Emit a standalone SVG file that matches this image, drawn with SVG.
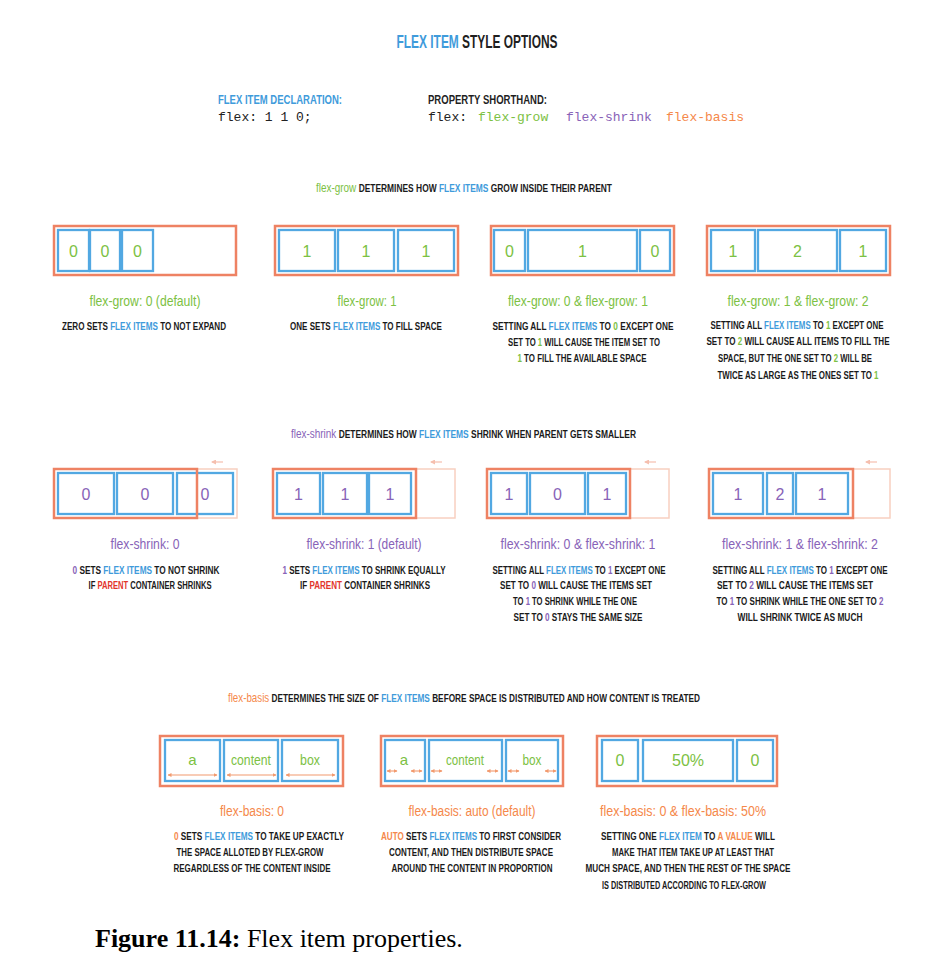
<svg xmlns="http://www.w3.org/2000/svg" width="927" height="959" viewBox="0 0 927 959">
<defs>
<style>
text{font-family:"Liberation Sans",Arial,sans-serif}
.t{font-size:19px;font-weight:bold;fill:#1f1f1f}
.h{font-size:13px;font-weight:bold;fill:#1f1f1f}
.c{font-size:11px;font-weight:bold;fill:#1a1a1a}
.s{font-size:15px;font-weight:normal}
.hs{font-size:13px;font-weight:normal}
.m{font-family:"Liberation Mono","DejaVu Sans Mono",monospace;font-size:13px;fill:#222}
.lab{font-size:16px;font-weight:normal}
.g{fill:#7cc143}.p{fill:#8863b8}.o{fill:#f5884a}.b{fill:#3f9bdb}.r{fill:#e2352b}
.outer{fill:none;stroke:#ee8263;stroke-width:2.5}
.faint{fill:none;stroke:#f8cfc0;stroke-width:1.5}
.item{fill:none;stroke:#52a8e2;stroke-width:2.3}
.farr{stroke:#f5bfae;stroke-width:1.2;fill:none}
.darr{stroke:#f29a6e;stroke-width:1.1;fill:none}
.cap{font-family:"Liberation Serif","Times New Roman",serif;font-size:26px;fill:#000}
</style>
<marker id="la" markerWidth="5" markerHeight="5" refX="4" refY="2.5" orient="auto" markerUnits="userSpaceOnUse">
<path d="M0,0 L5,2.5 L0,5 z" fill="#f5bfae"/>
</marker>
<marker id="da" markerWidth="4" markerHeight="4" refX="3.5" refY="2" orient="auto-start-reverse" markerUnits="userSpaceOnUse">
<path d="M0,0 L4,2 L0,4 z" fill="#f29a6e"/>
</marker>
</defs>
<rect width="927" height="959" fill="#fff"/>

<g id="header">
<text class="t" text-anchor="middle" transform="translate(477,48) scale(.63,1)" textLength="255.6" lengthAdjust="spacingAndGlyphs"><tspan class="b">FLEX ITEM</tspan> STYLE OPTIONS</text>
<text class="h b" transform="translate(218,104) scale(.73,1)" textLength="169.9" lengthAdjust="spacingAndGlyphs">FLEX ITEM DECLARATION:</text>
<text class="m" x="218" y="121">flex: 1 1 0;</text>
<text class="h" transform="translate(428,104) scale(.73,1)" textLength="163" lengthAdjust="spacingAndGlyphs">PROPERTY SHORTHAND:</text>
<text class="m" x="428" y="121">flex:</text>
<text class="m g" x="478" y="121">flex-grow</text>
<text class="m p" x="566" y="121">flex-shrink</text>
<text class="m o" x="666" y="121">flex-basis</text>
</g>

<g id="grow-heading">
<text class="c" text-anchor="middle" transform="translate(464,192) scale(.72,1)" textLength="411.1" lengthAdjust="spacingAndGlyphs"><tspan class="hs g">flex-grow</tspan> DETERMINES HOW <tspan class="b">FLEX ITEMS</tspan> GROW INSIDE THEIR PARENT</text>
</g>

<g id="grow-1">
<rect class="outer" x="54" y="226" width="182" height="49"/>
<rect class="item" x="58" y="230" width="31" height="41"/>
<rect class="item" x="90" y="230" width="30" height="41"/>
<rect class="item" x="122" y="230" width="31" height="41"/>
<text class="lab g" x="73.5" y="257" text-anchor="middle">0</text>
<text class="lab g" x="105" y="257" text-anchor="middle">0</text>
<text class="lab g" x="137.5" y="257" text-anchor="middle">0</text>
<text class="s g" text-anchor="middle" transform="translate(145,306) scale(.78,1)" textLength="142.3" lengthAdjust="spacingAndGlyphs">flex-grow: 0 (default)</text>
<text class="c" text-anchor="middle" transform="translate(144,330) scale(.72,1)" textLength="227.8" lengthAdjust="spacingAndGlyphs">ZERO SETS <tspan class="b">FLEX ITEMS</tspan> TO NOT EXPAND</text>
</g>

<g id="grow-2">
<rect class="outer" x="275" y="226" width="183" height="49"/>
<rect class="item" x="279" y="230" width="56" height="41"/>
<rect class="item" x="338" y="230" width="56" height="41"/>
<rect class="item" x="398" y="230" width="56" height="41"/>
<text class="lab g" x="307" y="257" text-anchor="middle">1</text>
<text class="lab g" x="366" y="257" text-anchor="middle">1</text>
<text class="lab g" x="426" y="257" text-anchor="middle">1</text>
<text class="s g" text-anchor="middle" transform="translate(367,306) scale(.78,1)" textLength="75.6" lengthAdjust="spacingAndGlyphs">flex-grow: 1</text>
<text class="c" text-anchor="middle" transform="translate(366,330) scale(.72,1)" textLength="211.1" lengthAdjust="spacingAndGlyphs">ONE SETS <tspan class="b">FLEX ITEMS</tspan> TO FILL SPACE</text>
</g>

<g id="grow-3">
<rect class="outer" x="491" y="226" width="183" height="49"/>
<rect class="item" x="494" y="230" width="31" height="41"/>
<rect class="item" x="528" y="230" width="109" height="41"/>
<rect class="item" x="640" y="230" width="30" height="41"/>
<text class="lab g" x="509.5" y="257" text-anchor="middle">0</text>
<text class="lab g" x="582.5" y="257" text-anchor="middle">1</text>
<text class="lab g" x="655" y="257" text-anchor="middle">0</text>
<text class="s g" text-anchor="middle" transform="translate(578,306) scale(.78,1)" textLength="179.5" lengthAdjust="spacingAndGlyphs">flex-grow: 0 &amp; flex-grow: 1</text>
<text class="c" text-anchor="middle" transform="translate(583,330) scale(.72,1)" textLength="251.4" lengthAdjust="spacingAndGlyphs">SETTING ALL <tspan class="b">FLEX ITEMS</tspan> TO <tspan class="g">0</tspan> EXCEPT ONE</text>
<text class="c" text-anchor="middle" transform="translate(584,346) scale(.72,1)" textLength="211.1" lengthAdjust="spacingAndGlyphs">SET TO <tspan class="g">1</tspan> WILL CAUSE THE ITEM SET TO</text>
<text class="c" text-anchor="middle" transform="translate(582,362) scale(.72,1)" textLength="179.2" lengthAdjust="spacingAndGlyphs"><tspan class="g">1</tspan> TO FILL THE AVAILABLE SPACE</text>
</g>

<g id="grow-4">
<rect class="outer" x="707" y="226" width="183" height="49"/>
<rect class="item" x="711" y="230" width="44" height="41"/>
<rect class="item" x="758" y="230" width="79" height="41"/>
<rect class="item" x="840" y="230" width="46" height="41"/>
<text class="lab g" x="733" y="257" text-anchor="middle">1</text>
<text class="lab g" x="797.5" y="257" text-anchor="middle">2</text>
<text class="lab g" x="863" y="257" text-anchor="middle">1</text>
<text class="s g" text-anchor="middle" transform="translate(798,306) scale(.78,1)" textLength="180.8" lengthAdjust="spacingAndGlyphs">flex-grow: 1 &amp; flex-grow: 2</text>
<text class="c" text-anchor="middle" transform="translate(797,329) scale(.72,1)" textLength="240.3" lengthAdjust="spacingAndGlyphs">SETTING ALL <tspan class="b">FLEX ITEMS</tspan> TO <tspan class="g">1</tspan> EXCEPT ONE</text>
<text class="c" text-anchor="middle" transform="translate(798,345) scale(.72,1)" textLength="254.2" lengthAdjust="spacingAndGlyphs">SET TO <tspan class="g">2</tspan> WILL CAUSE ALL ITEMS TO FILL THE</text>
<text class="c" text-anchor="middle" transform="translate(795,362) scale(.72,1)" textLength="213.9" lengthAdjust="spacingAndGlyphs">SPACE, BUT THE ONE SET TO <tspan class="g">2</tspan> WILL BE</text>
<text class="c" text-anchor="middle" transform="translate(798,379) scale(.72,1)" textLength="223.6" lengthAdjust="spacingAndGlyphs">TWICE AS LARGE AS THE ONES SET TO <tspan class="g">1</tspan></text>
</g>

<g id="shrink-heading">
<text class="c" text-anchor="middle" transform="translate(463.5,438) scale(.72,1)" textLength="479.2" lengthAdjust="spacingAndGlyphs"><tspan class="hs p">flex-shrink</tspan> DETERMINES HOW <tspan class="b">FLEX ITEMS</tspan> SHRINK WHEN PARENT GETS SMALLER</text>
</g>

<g id="shrink-1">
<rect class="faint" x="54" y="469" width="183" height="49"/>
<rect class="item" x="58" y="473" width="56" height="41"/>
<rect class="item" x="117" y="473" width="56" height="41"/>
<rect class="item" x="177" y="473" width="56" height="41"/>
<rect class="outer" x="54" y="469" width="143" height="49"/>
<text class="lab p" x="86" y="500" text-anchor="middle">0</text>
<text class="lab p" x="145" y="500" text-anchor="middle">0</text>
<text class="lab p" x="205" y="500" text-anchor="middle">0</text>
<text class="s p" text-anchor="middle" transform="translate(145,549) scale(.78,1)" textLength="88.5" lengthAdjust="spacingAndGlyphs">flex-shrink: 0</text>
<text class="c" text-anchor="middle" transform="translate(146,574) scale(.72,1)" textLength="204.2" lengthAdjust="spacingAndGlyphs"><tspan class="p">0</tspan> SETS <tspan class="b">FLEX ITEMS</tspan> TO NOT SHRINK</text>
<text class="c" text-anchor="middle" transform="translate(150,589) scale(.72,1)" textLength="170.8" lengthAdjust="spacingAndGlyphs">IF <tspan class="r">PARENT</tspan> CONTAINER SHRINKS</text>
</g>

<g id="shrink-2">
<rect class="faint" x="273" y="469" width="182" height="49"/>
<rect class="item" x="277" y="473" width="43" height="41"/>
<rect class="item" x="323" y="473" width="44" height="41"/>
<rect class="item" x="369" y="473" width="42" height="41"/>
<rect class="outer" x="273" y="469" width="143" height="49"/>
<text class="lab p" x="298.5" y="500" text-anchor="middle">1</text>
<text class="lab p" x="345" y="500" text-anchor="middle">1</text>
<text class="lab p" x="390" y="500" text-anchor="middle">1</text>
<text class="s p" text-anchor="middle" transform="translate(364,549) scale(.78,1)" textLength="147.4" lengthAdjust="spacingAndGlyphs">flex-shrink: 1 (default)</text>
<text class="c" text-anchor="middle" transform="translate(364,574) scale(.72,1)" textLength="226.4" lengthAdjust="spacingAndGlyphs"><tspan class="p">1</tspan> SETS <tspan class="b">FLEX ITEMS</tspan> TO SHRINK EQUALLY</text>
<text class="c" text-anchor="middle" transform="translate(365,589) scale(.72,1)" textLength="180.6" lengthAdjust="spacingAndGlyphs">IF <tspan class="r">PARENT</tspan> CONTAINER SHRINKS</text>
</g>

<g id="shrink-3">
<rect class="faint" x="487" y="469" width="182" height="49"/>
<rect class="item" x="491" y="473" width="36" height="41"/>
<rect class="item" x="530" y="473" width="55" height="41"/>
<rect class="item" x="588" y="473" width="38" height="41"/>
<rect class="outer" x="487" y="469" width="143" height="49"/>
<text class="lab p" x="509" y="500" text-anchor="middle">1</text>
<text class="lab p" x="557.5" y="500" text-anchor="middle">0</text>
<text class="lab p" x="607" y="500" text-anchor="middle">1</text>
<text class="s p" text-anchor="middle" transform="translate(578,549) scale(.78,1)" textLength="198.7" lengthAdjust="spacingAndGlyphs">flex-shrink: 0 &amp; flex-shrink: 1</text>
<text class="c" text-anchor="middle" transform="translate(579,574) scale(.72,1)" textLength="240.3" lengthAdjust="spacingAndGlyphs">SETTING ALL <tspan class="b">FLEX ITEMS</tspan> TO <tspan class="p">1</tspan> EXCEPT ONE</text>
<text class="c" text-anchor="middle" transform="translate(576,589) scale(.72,1)" textLength="211.1" lengthAdjust="spacingAndGlyphs">SET TO <tspan class="p">0</tspan> WILL CAUSE THE ITEMS SET</text>
<text class="c" text-anchor="middle" transform="translate(575,605) scale(.72,1)" textLength="172.2" lengthAdjust="spacingAndGlyphs">TO <tspan class="p">1</tspan> TO SHRINK WHILE THE ONE</text>
<text class="c" text-anchor="middle" transform="translate(578,621) scale(.72,1)" textLength="179.2" lengthAdjust="spacingAndGlyphs">SET TO <tspan class="p">0</tspan> STAYS THE SAME SIZE</text>
</g>

<g id="shrink-4">
<rect class="faint" x="709" y="469" width="181" height="49"/>
<rect class="item" x="713" y="473" width="50" height="41"/>
<rect class="item" x="767" y="473" width="26" height="41"/>
<rect class="item" x="796" y="473" width="52" height="41"/>
<rect class="outer" x="709" y="469" width="144" height="49"/>
<text class="lab p" x="738" y="500" text-anchor="middle">1</text>
<text class="lab p" x="780" y="500" text-anchor="middle">2</text>
<text class="lab p" x="822" y="500" text-anchor="middle">1</text>
<text class="s p" text-anchor="middle" transform="translate(800,549) scale(.78,1)" textLength="200" lengthAdjust="spacingAndGlyphs">flex-shrink: 1 &amp; flex-shrink: 2</text>
<text class="c" text-anchor="middle" transform="translate(800,574) scale(.72,1)" textLength="243.1" lengthAdjust="spacingAndGlyphs">SETTING ALL <tspan class="b">FLEX ITEMS</tspan> TO <tspan class="p">1</tspan> EXCEPT ONE</text>
<text class="c" text-anchor="middle" transform="translate(795,589) scale(.72,1)" textLength="216.7" lengthAdjust="spacingAndGlyphs">SET TO <tspan class="p">2</tspan> WILL CAUSE THE ITEMS SET</text>
<text class="c" text-anchor="middle" transform="translate(800,605) scale(.72,1)" textLength="231.9" lengthAdjust="spacingAndGlyphs">TO <tspan class="p">1</tspan> TO SHRINK WHILE THE ONE SET TO <tspan class="p">2</tspan></text>
<text class="c" text-anchor="middle" transform="translate(800,621) scale(.72,1)" textLength="173.6" lengthAdjust="spacingAndGlyphs">WILL SHRINK TWICE AS MUCH</text>
</g>

<g id="basis-heading">
<text class="c" text-anchor="middle" transform="translate(464,702) scale(.72,1)" textLength="655.6" lengthAdjust="spacingAndGlyphs"><tspan class="hs o">flex-basis</tspan> DETERMINES THE SIZE OF <tspan class="b">FLEX ITEMS</tspan> BEFORE SPACE IS DISTRIBUTED AND HOW CONTENT IS TREATED</text>
</g>

<g id="basis-1">
<rect class="outer" x="160" y="736" width="183" height="50"/>
<rect class="item" x="165" y="740" width="55" height="41"/>
<rect class="item" x="224" y="740" width="54" height="41"/>
<rect class="item" x="282" y="740" width="56" height="41"/>
<text class="s g" x="192.5" y="765" text-anchor="middle">a</text>
<text class="s g" text-anchor="middle" transform="translate(251,765) scale(.78,1)" textLength="51.3" lengthAdjust="spacingAndGlyphs">content</text>
<text class="s g" text-anchor="middle" transform="translate(310,765) scale(.78,1)" textLength="25.6" lengthAdjust="spacingAndGlyphs">box</text>
<text class="s o" text-anchor="middle" transform="translate(252,816) scale(.78,1)" textLength="82.1" lengthAdjust="spacingAndGlyphs">flex-basis: 0</text>
<text class="c" text-anchor="middle" transform="translate(259,840) scale(.72,1)" textLength="236.1" lengthAdjust="spacingAndGlyphs"><tspan class="o">0</tspan> SETS <tspan class="b">FLEX ITEMS</tspan> TO TAKE UP EXACTLY</text>
<text class="c" text-anchor="middle" transform="translate(250,856) scale(.72,1)" textLength="204.2" lengthAdjust="spacingAndGlyphs">THE SPACE ALLOTED BY FLEX-GROW</text>
<text class="c" text-anchor="middle" transform="translate(252,872) scale(.72,1)" textLength="218.1" lengthAdjust="spacingAndGlyphs">REGARDLESS OF THE CONTENT INSIDE</text>
</g>

<g id="basis-2">
<rect class="outer" x="381" y="736" width="182" height="50"/>
<rect class="item" x="385" y="740" width="40" height="41"/>
<rect class="item" x="429" y="740" width="73" height="41"/>
<rect class="item" x="506" y="740" width="52" height="41"/>
<text class="s g" x="404" y="765" text-anchor="middle">a</text>
<text class="s g" text-anchor="middle" transform="translate(465,765) scale(.78,1)" textLength="48.7" lengthAdjust="spacingAndGlyphs">content</text>
<text class="s g" text-anchor="middle" transform="translate(532,765) scale(.78,1)" textLength="24.4" lengthAdjust="spacingAndGlyphs">box</text>
<text class="s o" text-anchor="middle" transform="translate(472,816) scale(.78,1)" textLength="162.8" lengthAdjust="spacingAndGlyphs">flex-basis: auto (default)</text>
<text class="c" text-anchor="middle" transform="translate(471,840) scale(.72,1)" textLength="250" lengthAdjust="spacingAndGlyphs"><tspan class="o">AUTO</tspan> SETS <tspan class="b">FLEX ITEMS</tspan> TO FIRST CONSIDER</text>
<text class="c" text-anchor="middle" transform="translate(471,856) scale(.72,1)" textLength="227.8" lengthAdjust="spacingAndGlyphs">CONTENT, AND THEN DISTRIBUTE SPACE</text>
<text class="c" text-anchor="middle" transform="translate(472,872) scale(.72,1)" textLength="223.6" lengthAdjust="spacingAndGlyphs">AROUND THE CONTENT IN PROPORTION</text>
</g>

<g id="basis-3">
<rect class="outer" x="597" y="736" width="180" height="50"/>
<rect class="item" x="602" y="740" width="36" height="41"/>
<rect class="item" x="643" y="740" width="90" height="41"/>
<rect class="item" x="737" y="740" width="36" height="41"/>
<text class="lab g" x="620" y="766" text-anchor="middle">0</text>
<text class="lab g" x="688" y="766" text-anchor="middle">50%</text>
<text class="lab g" x="755" y="766" text-anchor="middle">0</text>
<text class="s o" text-anchor="middle" transform="translate(683,816) scale(.78,1)" textLength="212.8" lengthAdjust="spacingAndGlyphs">flex-basis: 0 &amp; flex-basis: 50%</text>
<text class="c" text-anchor="middle" transform="translate(688,840) scale(.72,1)" textLength="241.7" lengthAdjust="spacingAndGlyphs">SETTING ONE <tspan class="b">FLEX ITEM</tspan> TO <tspan class="o">A VALUE</tspan> WILL</text>
<text class="c" text-anchor="middle" transform="translate(693,856) scale(.72,1)" textLength="225" lengthAdjust="spacingAndGlyphs">MAKE THAT ITEM TAKE UP AT LEAST THAT</text>
<text class="c" text-anchor="middle" transform="translate(688,872) scale(.72,1)" textLength="284.7" lengthAdjust="spacingAndGlyphs">MUCH SPACE, AND THEN THE REST OF THE SPACE</text>
<text class="c" text-anchor="middle" transform="translate(684,889) scale(.72,1)" textLength="227.8" lengthAdjust="spacingAndGlyphs">IS DISTRIBUTED ACCORDING TO FLEX-GROW</text>
</g>

<g id="connectors">
<path class="farr" d="M223,462 H212" marker-end="url(#la)"/>
<path class="farr" d="M442,462 H431" marker-end="url(#la)"/>
<path class="farr" d="M656,462 H645" marker-end="url(#la)"/>
<path class="farr" d="M877,462 H866" marker-end="url(#la)"/>
<path class="darr" d="M168,775 H217" marker-start="url(#da)" marker-end="url(#da)"/>
<path class="darr" d="M227,775 H276" marker-start="url(#da)" marker-end="url(#da)"/>
<path class="darr" d="M286,775 H335" marker-start="url(#da)" marker-end="url(#da)"/>
<path class="darr" d="M387,771 H397" marker-start="url(#da)" marker-end="url(#da)"/>
<path class="darr" d="M411,771 H422" marker-start="url(#da)" marker-end="url(#da)"/>
<path class="darr" d="M431,771 H442" marker-start="url(#da)" marker-end="url(#da)"/>
<path class="darr" d="M487,771 H498" marker-start="url(#da)" marker-end="url(#da)"/>
<path class="darr" d="M508,771 H519" marker-start="url(#da)" marker-end="url(#da)"/>
<path class="darr" d="M545,771 H556" marker-start="url(#da)" marker-end="url(#da)"/>
</g>

<g id="caption">
<text class="cap" x="95" y="947"><tspan font-weight="bold">Figure 11.14:</tspan> Flex item properties.</text>
</g>
</svg>
